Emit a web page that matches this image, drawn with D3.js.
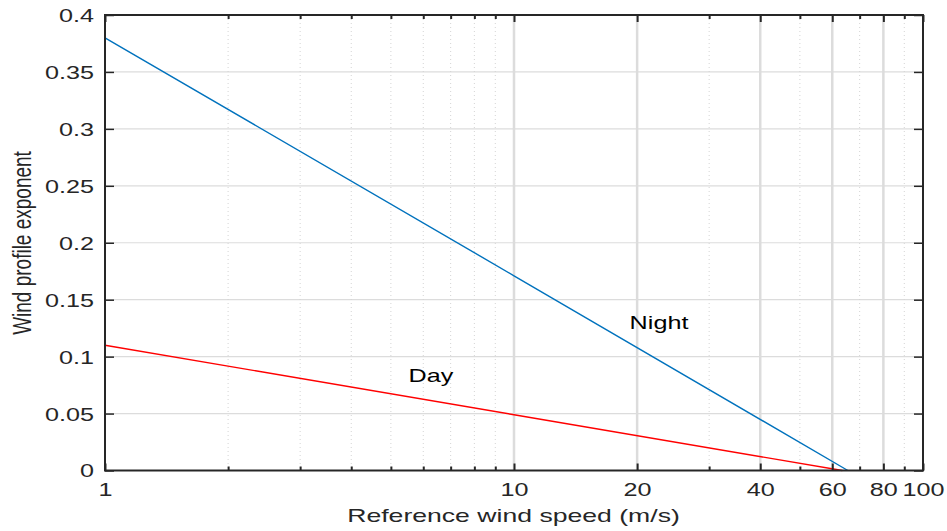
<!DOCTYPE html>
<html>
<head>
<meta charset="utf-8">
<script src="https://cdn.jsdelivr.net/npm/d3@7"></script>
<style>
  body { margin: 0; background: #fff; }
  text { font-family: "Liberation Sans", Arial, Helvetica, sans-serif; fill: #262626; }
</style>
</head>
<body>
<div id="chart"></div>
<script>
// wind speed (m/s) vs wind profile exponent
var daySpeed = [1, 10, 63.5];
var dayExponent = [0.11, 0.049, 0];
var nightSpeed = [1, 10, 65.5];
var nightExponent = [0.38, 0.171, 0];

var xMajorTicks = [1, 10, 20, 40, 60, 80, 100];
var xMinorTicks = [2, 3, 4, 5, 6, 7, 8, 9, 30, 50, 70, 90];
var yTicks = [0, 0.05, 0.1, 0.15, 0.2, 0.25, 0.3, 0.35, 0.4];
var yTickLabels = ['0', '0.05', '0.1', '0.15', '0.2', '0.25', '0.3', '0.35', '0.4'];

function drawChart(dom, options) {
    var width = options.width || 947;
    var height = options.height || 531;
    var stretch = options.stretch || 1.4;
    var left = 105, right = 923, top = 15, bottom = 470.5;

    var x = d3.scaleLog().domain([1, 100]).range([left, right]);
    var y = d3.scaleLinear().domain([0, 0.4]).range([bottom, top]);

    var svg = d3.select(dom).append('svg')
            .attr('width', width)
            .attr('height', height);

    // horizontal grid
    svg.append('g').selectAll('line')
            .data(yTicks.slice(1, -1))
            .enter().append('line')
            .attr('x1', left).attr('x2', right)
            .attr('y1', function (d) { return y(d); })
            .attr('y2', function (d) { return y(d); })
            .style('stroke', '#dcdcdc')
            .style('stroke-width', 1.2);

    // minor vertical grid (dotted)
    svg.append('g').selectAll('line')
            .data(xMinorTicks)
            .enter().append('line')
            .attr('x1', function (d) { return x(d); })
            .attr('x2', function (d) { return x(d); })
            .attr('y1', top).attr('y2', bottom)
            .style('stroke', '#d4d4d4')
            .style('stroke-width', 1)
            .style('stroke-dasharray', '1,3');

    // major vertical grid
    svg.append('g').selectAll('line')
            .data(xMajorTicks.slice(1, -1))
            .enter().append('line')
            .attr('x1', function (d) { return x(d); })
            .attr('x2', function (d) { return x(d); })
            .attr('y1', top).attr('y2', bottom)
            .style('stroke', '#dcdcdc')
            .style('stroke-width', 2.5);

    // data lines
    var line = d3.line()
            .x(function (d) { return x(d[0]); })
            .y(function (d) { return y(d[1]); });

    var night = d3.zip(nightSpeed, nightExponent);
    var day = d3.zip(daySpeed, dayExponent);

    svg.append('path').datum(night)
            .attr('d', line)
            .style('fill', 'none')
            .style('stroke', '#0072BD')
            .style('stroke-width', 1.4);

    svg.append('path').datum(day)
            .attr('d', line)
            .style('fill', 'none')
            .style('stroke', '#FF0000')
            .style('stroke-width', 1.4);

    // ticks, all pointing inward
    function xTicks(axisFn, yPos, values, len, labels) {
        var g = svg.append('g')
                .attr('transform', 'translate(0,' + yPos + ')')
                .call(axisFn(x).tickValues(values).tickSize(len)
                        .tickFormat(labels ? function (d) { return d; } : ''));
        g.select('.domain').remove();
        g.selectAll('.tick line').style('stroke', '#262626').style('stroke-width', 2);
        return g;
    }
    xTicks(d3.axisBottom, bottom, xMinorTicks, -4, false);
    xTicks(d3.axisTop, top, xMinorTicks, -4, false);
    xTicks(d3.axisTop, top, xMajorTicks, -7, false);
    var xAxis = xTicks(d3.axisBottom, bottom, xMajorTicks, -7, true);
    xAxis.selectAll('text')
            .attr('y', 0).attr('dy', null)
            .attr('transform', 'translate(0,25.5) scale(' + stretch + ',1)')
            .style('font-size', '18px');

    var yLeft = svg.append('g')
            .attr('transform', 'translate(' + left + ',0)')
            .call(d3.axisLeft(y).tickValues(yTicks).tickSize(-9)
                    .tickFormat(function (d, i) { return yTickLabels[i]; }));
    yLeft.select('.domain').remove();
    yLeft.selectAll('.tick line').style('stroke', '#262626').style('stroke-width', 1.5);
    yLeft.selectAll('text')
            .attr('x', 0).attr('dy', '0.36em')
            .attr('transform', 'translate(-11,0) scale(' + stretch + ',1)')
            .style('font-size', '18px');

    var yRight = svg.append('g')
            .attr('transform', 'translate(' + right + ',0)')
            .call(d3.axisRight(y).tickValues(yTicks).tickSize(-9).tickFormat(''));
    yRight.select('.domain').remove();
    yRight.selectAll('.tick line').style('stroke', '#262626').style('stroke-width', 1.5);

    // frame
    svg.append('rect')
            .attr('x', left).attr('y', top)
            .attr('width', right - left).attr('height', bottom - top)
            .style('fill', 'none')
            .style('stroke', '#262626')
            .style('stroke-width', 2);

    // series labels
    svg.append('text')
            .attr('transform', 'translate(659,329) scale(' + stretch + ',1)')
            .attr('text-anchor', 'middle')
            .style('font-size', '18px')
            .style('fill', '#000')
            .text('Night');
    svg.append('text')
            .attr('transform', 'translate(431,382) scale(' + stretch + ',1)')
            .attr('text-anchor', 'middle')
            .style('font-size', '18px')
            .style('fill', '#000')
            .text('Day');

    // axis titles
    svg.append('text')
            .attr('transform', 'translate(513.5,522) scale(' + stretch + ',1)')
            .attr('text-anchor', 'middle')
            .style('font-size', '19px')
            .text('Reference wind speed (m/s)');
    svg.append('text')
            .attr('transform', 'translate(31,243) rotate(-90) scale(1,' + stretch + ')')
            .attr('text-anchor', 'middle')
            .style('font-size', '19px')
            .text('Wind profile exponent');
}

drawChart('#chart', {stretch: 1.4});
</script>
</body>
</html>
